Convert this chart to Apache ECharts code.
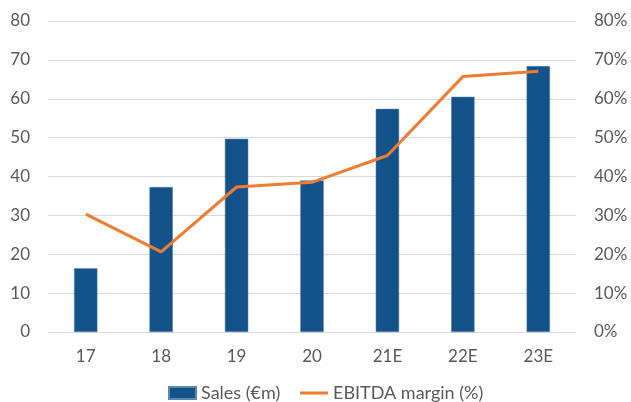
<!DOCTYPE html>
<html>
<head>
<meta charset="utf-8">
<script src="https://cdn.jsdelivr.net/npm/echarts@6/dist/echarts.min.js"></script>
<style>
  html, body { margin: 0; padding: 0; background: #fff; }
  #main { width: 631px; height: 402px; }
</style>
</head>
<body>
<div id="main"></div>
<script>
// data
var years = ['17', '18', '19', '20', '21E', '22E', '23E'];
var sales = [16.4, 37.3, 49.7, 39.0, 57.4, 60.5, 68.4];
var ebitdaMargin = [30.3, 20.6, 37.3, 38.5, 45.4, 65.7, 67.1];

var labelFont = 'Lato, "Open Sans", sans-serif';
var legendText = { fontFamily: labelFont, fontSize: 18, color: '#595959' };

var chart = echarts.init(document.getElementById('main'));
var option = {
  animation: false,
  grid: { left: 48, right: 55, top: 21, bottom: 70, containLabel: false },
  // two legends so the line key can be a thin bar
  legend: [
    {
      left: 168, bottom: 0, padding: 0,
      itemWidth: 27, itemHeight: 12,
      icon: 'rect',
      textStyle: legendText,
      data: ['Sales (€m)']
    },
    {
      left: 300, bottom: 0, padding: 0,
      itemWidth: 28, itemHeight: 3,
      icon: 'rect',
      textStyle: legendText,
      data: ['EBITDA margin (%)']
    }
  ],
  xAxis: {
    type: 'category',
    data: years,
    axisLine: { lineStyle: { color: '#d9d9d9', width: 1 } },
    axisTick: { show: false },
    axisLabel: { fontFamily: labelFont, fontSize: 17, color: '#595959', margin: 16 }
  },
  yAxis: [
    {
      type: 'value',
      min: 0, max: 80, interval: 10,
      axisLine: { show: false },
      axisTick: { show: false },
      splitLine: { lineStyle: { color: '#d9d9d9', width: 1 } },
      axisLabel: { fontFamily: labelFont, fontSize: 17, color: '#595959', margin: 18 }
    },
    {
      type: 'value',
      min: 0, max: 80, interval: 10,
      axisLine: { show: false },
      axisTick: { show: false },
      splitLine: { show: false },
      axisLabel: { fontFamily: labelFont, fontSize: 17, color: '#595959', margin: 18, formatter: '{value}%' }
    }
  ],
  series: [
    {
      name: 'Sales (€m)',
      type: 'bar',
      data: sales,
      barWidth: '31%',
      itemStyle: { color: '#14528A', borderColor: '#5b87b3', borderWidth: 0.5 }
    },
    {
      name: 'EBITDA margin (%)',
      type: 'line',
      yAxisIndex: 1,
      data: ebitdaMargin,
      symbol: 'none',
      lineStyle: { color: '#ED7D31', width: 3 },
      itemStyle: { color: '#ED7D31' }
    }
  ]
};
chart.setOption(option);
</script>
</body>
</html>
